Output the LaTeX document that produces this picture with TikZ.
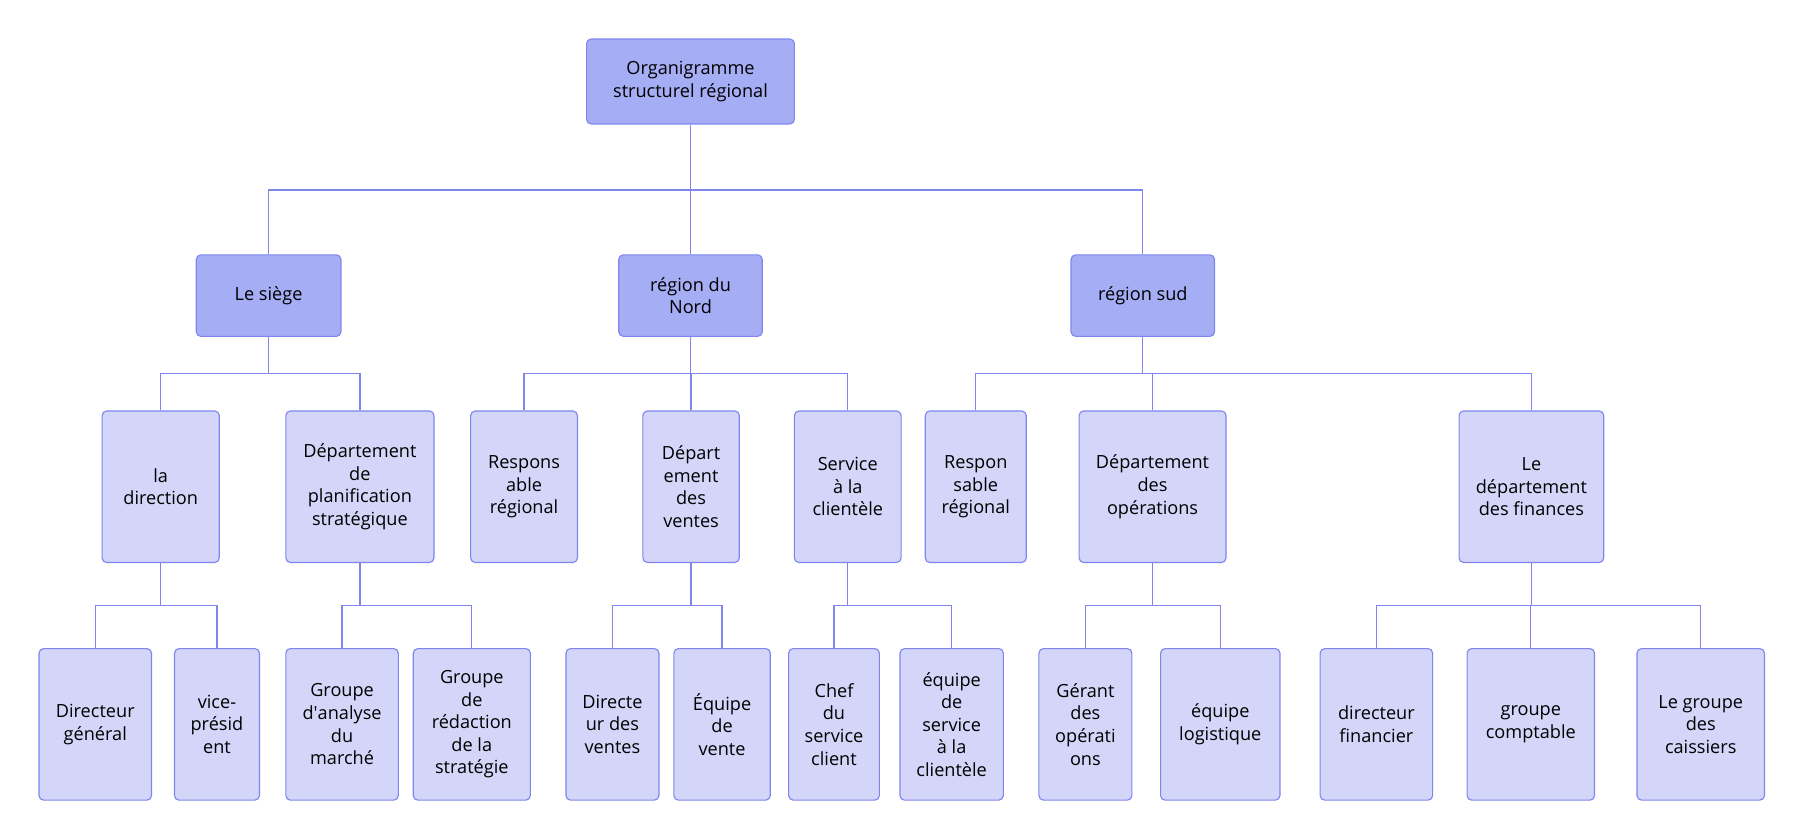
\documentclass[tikz,border=0pt]{standalone}
\usepackage{fontspec}
\setmainfont{Open Sans}
\usepackage{tikz}

\definecolor{topfill}{RGB}{165,173,244}
\definecolor{subfill}{RGB}{211,214,248}
\definecolor{edge}{RGB}{128,134,238}

\begin{document}
\begin{tikzpicture}[x=1pt, y=-1pt,
    box/.style={draw=edge, line width=1pt, rounded corners=4pt, align=center,
        inner sep=0pt, font=\fontsize{15.8}{19.7}\selectfont},
    topbox/.style={box, fill=topfill, minimum height=71pt},
    subbox/.style={box, fill=subfill, minimum height=132pt},
    link/.style={draw=edge, line width=1.1pt}]
    \useasboundingbox (0, 0) rectangle (1568, 728);

    % root
    \node[topbox, minimum width=181pt, minimum height=74pt] (root) at (601.5, 71) {Organigramme\\structurel régional};

    % regions
    \node[topbox, minimum width=126pt] (siege) at (234, 257.5) {Le siège};
    \node[topbox, minimum width=125pt] (nord) at (601.5, 257.5) {région du\\Nord};
    \node[topbox, minimum width=125pt] (sud) at (995.5, 257.5) {région sud};

    % departments
    \node[subbox, minimum width=102pt] (direction) at (140, 424) {la\\direction};
    \node[subbox, minimum width=129pt] (planif) at (313.5, 424) {Département\\de\\planification\\stratégique};
    \node[subbox, minimum width=93pt] (respnord) at (456.5, 424) {Respons\\able\\régional};
    \node[subbox, minimum width=84pt] (ventes) at (602, 424) {Départ\\ement\\des\\ventes};
    \node[subbox, minimum width=93pt] (service) at (738.5, 424) {Service\\à la\\clientèle};
    \node[subbox, minimum width=88pt] (respsud) at (850, 424) {Respon\\sable\\régional};
    \node[subbox, minimum width=128pt] (operations) at (1004, 424) {Département\\des\\opérations};
    \node[subbox, minimum width=126pt] (finances) at (1334, 424) {Le\\département\\des finances};

    % teams
    \node[subbox, minimum width=98pt] (dg) at (83, 631) {Directeur\\général};
    \node[subbox, minimum width=74pt] (vp) at (189, 631) {vice-\\présid\\ent};
    \node[subbox, minimum width=98pt] (analyse) at (298, 631) {Groupe\\d\textquotesingle analyse\\du\\marché};
    \node[subbox, minimum width=102pt] (redaction) at (411, 631) {Groupe\\de\\rédaction\\de la\\stratégie};
    \node[subbox, minimum width=81pt] (dirventes) at (533.5, 631) {Directe\\ur des\\ventes};
    \node[subbox, minimum width=84pt] (eqvente) at (629, 631) {Équipe\\de\\vente};
    \node[subbox, minimum width=79pt] (chef) at (726.5, 631) {Chef\\du\\service\\client};
    \node[subbox, minimum width=90pt] (eqservice) at (829, 631) {équipe\\de\\service\\à la\\clientèle};
    \node[subbox, minimum width=81pt] (gerant) at (945.5, 631) {Gérant\\des\\opérati\\ons};
    \node[subbox, minimum width=104pt] (logistique) at (1063, 631) {équipe\\logistique};
    \node[subbox, minimum width=98pt] (dirfin) at (1199, 631) {directeur\\financier};
    \node[subbox, minimum width=111pt] (comptable) at (1333.5, 631) {groupe\\comptable};
    \node[subbox, minimum width=111pt] (caissiers) at (1481.5, 631) {Le groupe\\des\\caissiers};

    % connectors
    \foreach \c in {siege, nord, sud}
        \draw[link] (root.south) -- ++(0, 57) -| (\c.north);
    \foreach \p/\c in {siege/direction, siege/planif, nord/respnord, nord/ventes, nord/service,
                       sud/respsud, sud/operations, sud/finances}
        \draw[link] (\p.south) -- ++(0, 32) -| (\c.north);
    \foreach \p/\c in {direction/dg, direction/vp, planif/analyse, planif/redaction,
                       ventes/dirventes, ventes/eqvente, service/chef, service/eqservice,
                       operations/gerant, operations/logistique,
                       finances/dirfin, finances/comptable, finances/caissiers}
        \draw[link] (\p.south) -- ++(0, 37) -| (\c.north);
\end{tikzpicture}
\end{document}
